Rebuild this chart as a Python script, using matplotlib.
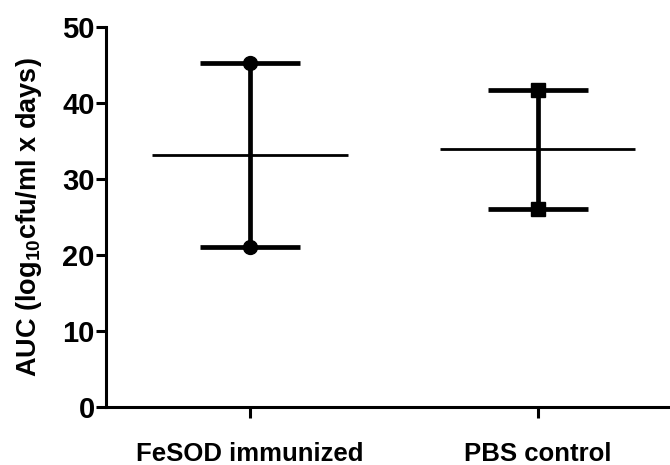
import numpy as np
import matplotlib
matplotlib.use("Agg")
import matplotlib.pyplot as plt

# ----------------------------
# Data
# ----------------------------
groups = ["FeSOD immunized", "PBS control"]
values_max = [45.2, 41.7]
values_min = [21.1, 26.1]
means = [33.2, 33.9]
markers = ["o", "s"]

plt.rcParams["font.family"] = ["Liberation Sans", "DejaVu Sans"]
plt.rcParams["font.weight"] = "bold"
plt.rcParams["mathtext.fontset"] = "custom"
plt.rcParams["mathtext.rm"] = "Liberation Sans:bold"
plt.rcParams["mathtext.it"] = "Liberation Sans:bold"
plt.rcParams["mathtext.bf"] = "Liberation Sans:bold"

fig = plt.figure(figsize=(6.7, 4.65), dpi=100)
ax = fig.add_axes([0.158, 0.125, 0.842, 0.817])

x = np.arange(len(groups))
for i in x:
    # range bar (min -> max)
    ax.errorbar(x[i], means[i],
                yerr=[[means[i] - values_min[i]], [values_max[i] - means[i]]],
                fmt="none", ecolor="black", elinewidth=3.4, capsize=36,
                capthick=3.4, zorder=2)
    # individual points
    ax.plot([x[i], x[i]], [values_min[i], values_max[i]], linestyle="none",
            marker=markers[i], markersize=10, color="black", zorder=3)
    # mean line
    ax.hlines(means[i], x[i] - 0.34, x[i] + 0.34, color="black",
              linewidth=2.0, zorder=2)

ax.set_xlim(-0.5, 1.46)
ax.set_ylim(0, 50)
ax.set_yticks([0, 10, 20, 30, 40, 50])
ax.set_xticks(x)
ax.set_xticklabels(groups, fontsize=18.5, fontweight="bold")
ax.tick_params(axis="y", labelsize=21, width=2.2, length=7, pad=1)
ax.tick_params(axis="x", width=2.2, length=8, pad=17)
for lbl in ax.get_yticklabels():
    lbl.set_fontweight("bold")

for side in ["top", "right"]:
    ax.spines[side].set_visible(False)
for side in ["left", "bottom"]:
    ax.spines[side].set_linewidth(2.2)

ax.set_ylabel(r"AUC (log$_{10}$cfu/ml x days)", fontsize=19.5,
              fontweight="bold", labelpad=13)

fig.savefig("out.png", dpi=100)
